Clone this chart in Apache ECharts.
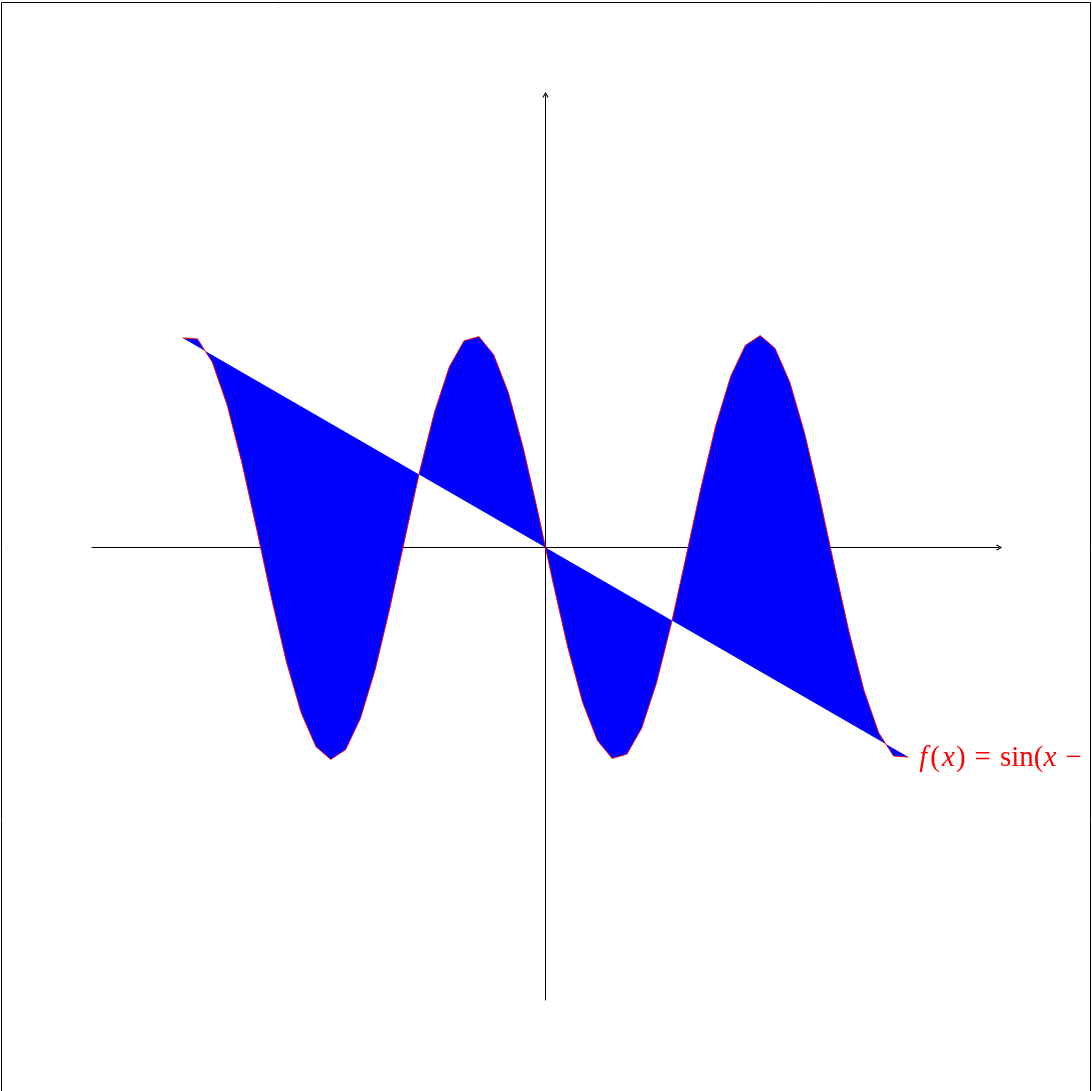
<!DOCTYPE html>
<html>
<head>
<meta charset="utf-8">
<script src="https://cdn.jsdelivr.net/npm/echarts@6/dist/echarts.min.js"></script>
<style>
html,body{margin:0;padding:0;background:#fff;}
#chart{width:1092px;height:1091px;}
</style>
</head>
<body>
<div id="chart"></div>
<script>
var xs = [-8.000,-7.673,-7.347,-7.020,-6.694,-6.367,-6.041,-5.714,-5.388,-5.061,
          -4.735,-4.408,-4.082,-3.755,-3.429,-3.102,-2.776,-2.449,-2.122,-1.796,
          -1.469,-1.143,-0.816,-0.490,-0.163,0.163,0.490,0.816,1.143,1.469,
          1.796,2.122,2.449,2.776,3.102,3.429,3.755,4.082,4.408,4.735,
          5.061,5.388,5.714,6.041,6.367,6.694,7.020,7.347,7.673,8.000];
// curve values f(x) at those samples
var ys = [0.989,0.984,0.874,0.672,0.399,0.084,-0.240,-0.539,-0.780,-0.940,
          -1.000,-0.954,-0.807,-0.576,-0.283,0.040,0.358,0.638,0.852,0.975,
          0.995,0.910,0.729,0.470,0.163,-0.163,-0.470,-0.729,-0.910,-0.995,
          -0.975,-0.852,-0.638,-0.358,-0.040,0.283,0.576,0.807,0.954,1.000,
          0.940,0.780,0.539,0.240,-0.084,-0.399,-0.672,-0.874,-0.984,-0.989];
// axis extents
var xRange = [-10, 10];
var yRange = [-2.135, 2.135];
// curve label pieces: [style key, text]
var labelParts = [['f','f'],['lp','('],['x1','x'],['rp',')'],['eq','='],['sin','sin'],['lp2','('],['x2','x'],['mi','−'],['tail','π)']];

var points = xs.map(function (x, i) { return [x, ys[i]]; });

var chevron = 'path://M5,0 L10,8.3 L8.9,10 L5,3.2 L1.1,10 L0,8.3 Z';

var FONT = 'Liberation Serif';
var FS = 29;
function st(italic, pad) {
  return {fontFamily: FONT, fontStyle: italic ? 'italic' : 'normal', fontSize: FS,
          fill: '#ff0000', padding: pad};
}

var chart = echarts.init(document.getElementById('chart'), null, {renderer: 'canvas'});
chart.setOption({
  animation: false,
  backgroundColor: '#ffffff',
  grid: {left: 92, right: 93, top: 95, bottom: 91, containLabel: false},
  xAxis: {
    type: 'value', min: xRange[0], max: xRange[1],
    axisLine: {onZero: true, lineStyle: {color: '#000', width: 1},
      symbol: ['none', chevron], symbolSize: [10, 6]},
    axisTick: {show: false}, axisLabel: {show: false}, splitLine: {show: false}
  },
  yAxis: {
    type: 'value', min: yRange[0], max: yRange[1],
    axisLine: {onZero: true, lineStyle: {color: '#000', width: 1},
      symbol: ['none', chevron], symbolSize: [10, 6]},
    axisTick: {show: false}, axisLabel: {show: false}, splitLine: {show: false}
  },
  graphic: [{
    type: 'rect', z: 100,
    shape: {x: 1.5, y: 2.5, width: 1089, height: 1100},
    style: {fill: 'none', stroke: '#000', lineWidth: 1}
  }],
  series: [{
    type: 'custom',
    clip: false,
    data: points,
    renderItem: function (params, api) {
      if (params.dataIndex !== 0) return null;
      var pts = points.map(function (p) { return api.coord(p); });
      var last = pts[pts.length - 1];
      var text = labelParts.map(function (p) { return '{' + p[0] + '|' + p[1] + '}'; }).join('');
      return {
        type: 'group',
        children: [
          {type: 'polygon', shape: {points: pts}, style: {fill: '#0000ff', stroke: null}},
          {type: 'polyline', shape: {points: pts}, style: {fill: null, stroke: '#ff0000', lineWidth: 0.9}},
          {type: 'text', x: last[0] + 11, y: last[1] + 1,
           style: {text: text, verticalAlign: 'middle', align: 'left', fill: '#ff0000',
             rich: {
               f: st(true, [0, 3, 0, 0]),
               lp: st(false, [0, 2, 0, 0]),
               x1: st(true, [0, 1, 0, 0]),
               rp: st(false, [0, 0, 0, 0]),
               eq: st(false, [0, 9, 0, 9]),
               sin: st(false, [0, 0, 0, 0]),
               lp2: st(false, [0, 0, 0, 0]),
               x2: st(true, [0, 9, 0, 0]),
               mi: st(false, [0, 14, 0, 0]),
               tail: st(false, [0, 0, 0, 0])
             }}}
        ]
      };
    }
  }]
});
</script>
</body>
</html>
